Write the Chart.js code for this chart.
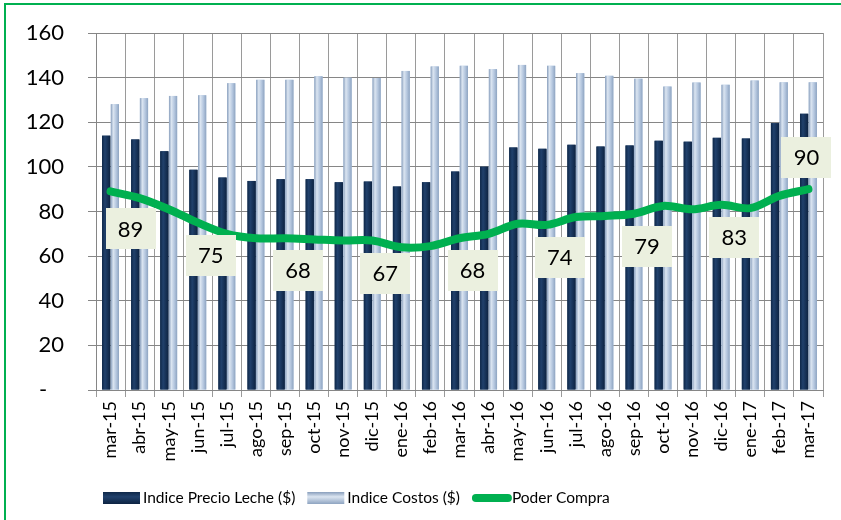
<!DOCTYPE html>
<html>
<head>
<meta charset="utf-8">
<script src="https://cdn.jsdelivr.net/npm/chart.js@4.4.1/dist/chart.umd.min.js"></script>
<style>
  html, body { margin: 0; padding: 0; background: #fff; }
  #wrap { position: relative; width: 841px; height: 520px; overflow: hidden; }
  #wrap canvas { position: absolute; left: 0; top: 0; }
  #marco { position: absolute; left: 4px; top: 3px; width: 900px; height: 600px;
           border: 2px solid #00B050; box-sizing: border-box; pointer-events: none; }
</style>
</head>
<body>
<div id="wrap">
  <canvas id="grafico" width="841" height="520"></canvas>
  <div id="marco"></div>
</div>
<script>
const meses = ['mar-15', 'abr-15', 'may-15', 'jun-15', 'jul-15', 'ago-15', 'sep-15', 'oct-15',
  'nov-15', 'dic-15', 'ene-16', 'feb-16', 'mar-16', 'abr-16', 'may-16', 'jun-16', 'jul-16',
  'ago-16', 'sep-16', 'oct-16', 'nov-16', 'dic-16', 'ene-17', 'feb-17', 'mar-17'];

const precioLeche = [114, 112.3, 107, 98.7, 95.2, 93.7, 94.5, 94.5, 93.1, 93.4, 91.2, 93.1,
  97.9, 100.1, 108.7, 108.1, 109.9, 109.1, 109.6, 111.7, 111.3, 113, 112.7, 119.6, 123.8];

const costos = [128.1, 130.8, 131.8, 132.1, 137.5, 139, 139, 140.6, 140, 139.8, 143, 145,
  145.3, 143.8, 145.7, 145.3, 142, 140.8, 139.5, 136, 137.8, 136.8, 138.7, 137.9, 137.9];

const poderCompra = [89, 86, 81, 75, 70, 68, 68, 67.5, 67, 67, 64, 64.5, 68, 70, 74.5, 74,
  77.5, 78, 79, 82.5, 81, 83, 81.5, 87, 90];

const ejeY = { min: 0, max: 160, paso: 20 };

Chart.defaults.font.family = 'Lato, "Open Sans", sans-serif';
Chart.defaults.color = '#000';

// horizontal shading so the bars look like rounded columns
const tonos = {
  0: [[0, '#0f2849'], [0.35, '#21416c'], [1, '#0d2342']],
  1: [[0, '#889ebc'], [0.3, '#dbe5f1'], [0.65, '#b5c7df'], [1, '#8ea4c1']]
};

const relieve = {
  id: 'relieve',
  afterDatasetDraw(chart, args) {
    const paradas = tonos[args.index];
    if (!paradas) return;
    const ctx = chart.ctx;
    ctx.save();
    args.meta.data.forEach(bar => {
      const { x, y, base, width } = bar.getProps(['x', 'y', 'base', 'width'], true);
      const g = ctx.createLinearGradient(x - width / 2, 0, x + width / 2, 0);
      paradas.forEach(([p, c]) => g.addColorStop(p, c));
      ctx.fillStyle = g;
      ctx.fillRect(x - width / 2, y, width, base - y);
    });
    ctx.restore();
  }
};

// value boxes every third month on the purchasing-power line
const etiquetas = {
  id: 'etiquetas',
  afterDatasetsDraw(chart) {
    const meta = chart.getDatasetMeta(2);
    const ctx = chart.ctx;
    ctx.save();
    ctx.font = '22px Lato, sans-serif';
    ctx.textAlign = 'center';
    ctx.textBaseline = 'middle';
    meta.data.forEach((pt, i) => {
      if (i % 3) return;
      const ultimo = i === meta.data.length - 1;
      const cx = ultimo ? pt.x - 2 : pt.x + (i === 0 ? 20 : 13);
      const cy = ultimo ? pt.y - 32 : pt.y + (i === 0 ? 37 : 32);
      ctx.fillStyle = '#ebf0df';
      ctx.fillRect(Math.round(cx - 25), Math.round(cy - 20), 50, 41);
      ctx.fillStyle = '#000';
      ctx.fillText(String(Math.round(poderCompra[i])), cx, cy + 1);
    });
    ctx.restore();
  }
};

const leyenda = {
  id: 'leyenda',
  afterDraw(chart) {
    const ctx = chart.ctx;
    const y = 498;
    let x = 103;
    ctx.save();
    ctx.font = '15.5px Lato, sans-serif';
    ctx.textBaseline = 'middle';
    chart.data.datasets.forEach((ds, i) => {
      if (tonos[i]) {
        const g = ctx.createLinearGradient(0, y - 6, 0, y + 6);
        g.addColorStop(0, tonos[i][0][1]);
        g.addColorStop(0.4, tonos[i][1][1]);
        g.addColorStop(1, tonos[i][tonos[i].length - 1][1]);
        ctx.fillStyle = g;
        ctx.fillRect(x, y - 6, 37, 12);
      } else {
        ctx.strokeStyle = ds.borderColor;
        ctx.lineWidth = 8;
        ctx.lineCap = 'round';
        ctx.beginPath();
        ctx.moveTo(x + 4, y);
        ctx.lineTo(x + 36, y);
        ctx.stroke();
      }
      ctx.fillStyle = '#000';
      ctx.fillText(ds.label, x + 40, y);
      x += 40 + ctx.measureText(ds.label).width + 12;
    });
    ctx.restore();
  }
};

new Chart(document.getElementById('grafico'), {
  type: 'bar',
  data: {
    labels: meses,
    datasets: [
      {
        label: 'Indice Precio Leche ($)',
        data: precioLeche,
        backgroundColor: '#17365d',
        categoryPercentage: 0.6,
        barPercentage: 0.94,
        order: 1
      },
      {
        label: 'Indice Costos ($)',
        data: costos,
        backgroundColor: '#b9cde5',
        categoryPercentage: 0.6,
        barPercentage: 0.94,
        order: 1
      },
      {
        type: 'line',
        label: 'Poder Compra',
        data: poderCompra,
        borderColor: '#00b050',
        borderWidth: 8,
        borderCapStyle: 'round',
        borderJoinStyle: 'round',
        tension: 0.35,
        pointRadius: 0,
        order: 0
      }
    ]
  },
  options: {
    responsive: false,
    animation: false,
    layout: { padding: { top: 33, right: 18, bottom: 41, left: 0 } },
    plugins: {
      legend: { display: false },
      tooltip: { enabled: false }
    },
    scales: {
      x: {
        grid: { offset: true, color: '#9a9a9a', tickLength: 7 },
        border: { color: '#868686' },
        ticks: { minRotation: 90, maxRotation: 90, autoSkip: false, padding: 4, font: { size: 18 } },
        afterFit: s => { s.height = 89; }
      },
      y: {
        min: ejeY.min,
        max: ejeY.max,
        grid: { color: '#868686', tickLength: 8 },
        border: { color: '#868686' },
        ticks: {
          stepSize: ejeY.paso,
          padding: 24,
          font: { size: 22 },
          callback: v => (v === 0 ? '-   ' : v)
        },
        // fixed axis width; the label gap must not push the plot down
        afterFit: s => {
          s.width = 96;
          s.paddingTop = 0;
          s.paddingBottom = 0;
        }
      }
    }
  },
  plugins: [relieve, etiquetas, leyenda]
});
</script>
</body>
</html>
